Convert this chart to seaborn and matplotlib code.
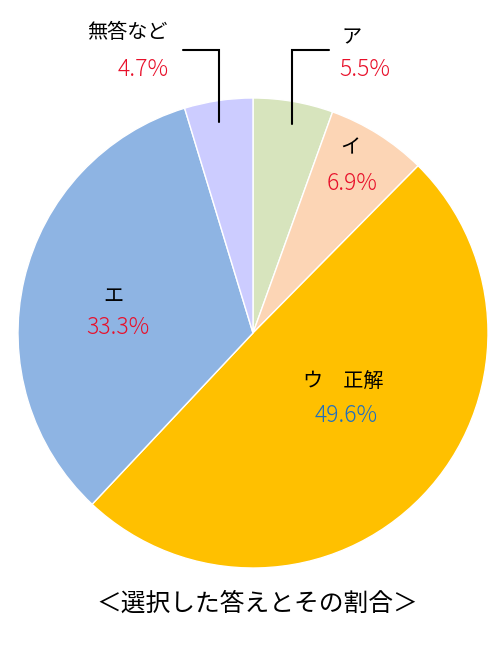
import matplotlib
matplotlib.use('Agg')
import matplotlib.pyplot as plt
import seaborn as sns

sns.set_style('white')
plt.rcParams['font.family'] = ['Noto Sans CJK JP', 'DejaVu Sans']

# データ
labels = ['ア', 'イ', 'ウ\u3000正解', 'エ', '無答など']
values = [5.5, 6.9, 49.6, 33.3, 4.7]
pct_text = ['5.5%', '6.9%', '49.6%', '33.3%', '4.7%']
colors = ['#d7e4bd', '#fcd5b5', '#ffc000', '#8eb4e3', '#ccccff']
pct_colors = ['#e8102a', '#e8102a', '#1f6fbf', '#e8102a', '#e8102a']

fig = plt.figure(figsize=(5, 6.6), dpi=100)
# 円の中心 (253, 333) px、半径 235 px
R = 235
cx, cy = 253, 333
ax = fig.add_axes([(cx - R) / 500, (660 - cy - R) / 660, 2 * R / 500, 2 * R / 660])
ax.pie(values, colors=colors, startangle=90, counterclock=False,
       wedgeprops=dict(edgecolor='white', linewidth=1))
ax.set_xlim(-1, 1)
ax.set_ylim(-1, 1)
ax.set_aspect('equal')
ax.axis('off')


def d(px, py):
    return (px - cx) / R, (cy - py) / R


# ラベル位置 (px)
name_pos = [(352, 38), (350, 148), (343, 381), (113, 296), (127, 33)]
pct_pos = [(365, 70), (352, 183), (346, 415), (118, 327), (143, 70)]
for i in range(len(labels)):
    x, y = d(*name_pos[i])
    ax.text(x, y, labels[i], ha='center', va='center', fontsize=14.5, color='black')
    x, y = d(*pct_pos[i])
    ax.text(x, y, pct_text[i], ha='center', va='center', fontsize=16.5,
            color=pct_colors[i], fontweight='light')

# 引き出し線
for pts in [[(329, 50), (292, 50), (292, 124)], [(183, 50), (219, 50), (219, 122)]]:
    xs, ys = zip(*[d(*p) for p in pts])
    ax.plot(xs, ys, color='black', linewidth=1.5, clip_on=False,
            solid_joinstyle='miter')

fig.text(257 / 500, 1 - 604 / 660, '＜選択した答えとその割合＞', ha='center', va='center',
         fontsize=17.8, color='black')

fig.savefig('out.png', dpi=100)
